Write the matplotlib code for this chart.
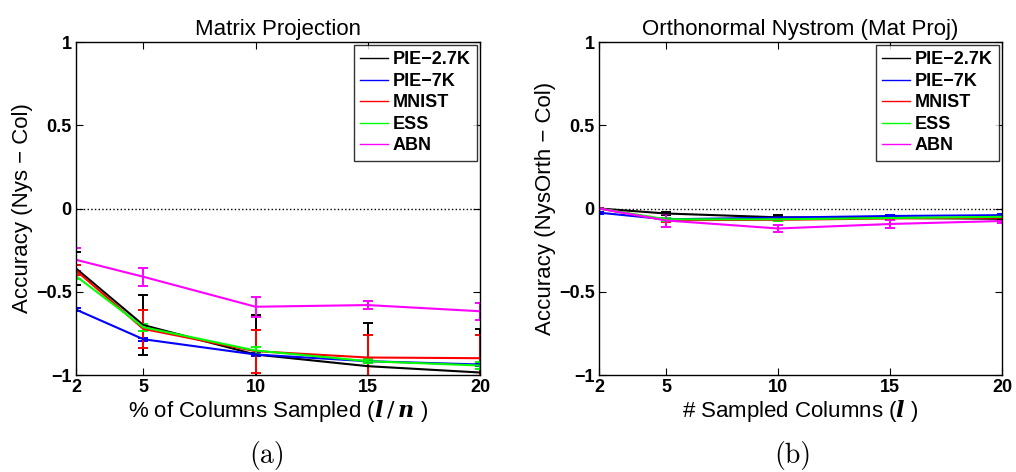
import numpy as np
import matplotlib
matplotlib.use("Agg")
import matplotlib.pyplot as plt
from matplotlib.lines import Line2D

plt.rcParams['font.family'] = ['Liberation Sans', 'DejaVu Sans']
plt.rcParams['mathtext.fontset'] = 'custom'
plt.rcParams['mathtext.it'] = 'DejaVu Serif:italic:bold'
plt.rcParams['mathtext.bf'] = 'DejaVu Serif:bold'

x_vals = [2, 5, 10, 15, 20]
datasets = ['PIE\u22122.7K', 'PIE\u22127K', 'MNIST', 'ESS', 'ABN']
colors = ['#000000', '#0000ff', '#ff0000', '#00ff00', '#ff00ff']

# Panel (a): Matrix Projection
a_pie27 = [-0.36, -0.70, -0.877, -0.947, -0.985]
a_pie7 = [-0.607, -0.785, -0.877, -0.917, -0.937]
a_mnist = [-0.372, -0.723, -0.857, -0.895, -0.899]
a_ess = [-0.406, -0.713, -0.853, -0.917, -0.943]
a_abn = [-0.308, -0.41, -0.59, -0.58, -0.617]
a_pie27_err = [0.1, 0.18, 0.24, 0.26, 0.26]
a_pie7_err = [0.01, 0.01, 0.01, 0.01, 0.01]
a_mnist_err = [0.03, 0.115, 0.128, 0.138, 0.14]
a_ess_err = [0.02, 0.02, 0.02, 0.012, 0.02]
a_abn_err = [0.07, 0.055, 0.06, 0.025, 0.05]

# Panel (b): Orthonormal Nystrom (Mat Proj)
b_pie27 = [0.0, -0.03, -0.053, -0.056, -0.062]
b_pie7 = [-0.025, -0.065, -0.055, -0.045, -0.04]
b_mnist = [0.0, -0.07, -0.068, -0.06, -0.055]
b_ess = [0.0, -0.065, -0.065, -0.057, -0.05]
b_abn = [0.0, -0.072, -0.12, -0.093, -0.075]
b_pie27_err = [0.005, 0.01, 0.015, 0.01, 0.01]
b_pie7_err = [0.005, 0.005, 0.005, 0.005, 0.005]
b_mnist_err = [0.005, 0.01, 0.01, 0.01, 0.01]
b_ess_err = [0.005, 0.01, 0.01, 0.01, 0.01]
b_abn_err = [0.005, 0.04, 0.02, 0.025, 0.01]

yticks = [-1, -0.5, 0, 0.5, 1]
ytick_labels = ['\u22121', '\u22120.5', '0', '0.5', '1']

fig = plt.figure(figsize=(10.16, 4.72), dpi=100)
ax1 = fig.add_axes([0.0748, 0.2055, 0.3976, 0.7055])
ax2 = fig.add_axes([0.5896, 0.2055, 0.3967, 0.7055])

panels = [
    (ax1, [a_pie27, a_pie7, a_mnist, a_ess, a_abn],
     [a_pie27_err, a_pie7_err, a_mnist_err, a_ess_err, a_abn_err],
     'Matrix Projection', 'Accuracy (Nys \u2212 Col)',
     r'% of Columns Sampled ($\mathit{l}\,/\,\mathit{n}$ )', '(a)', 0.263),
    (ax2, [b_pie27, b_pie7, b_mnist, b_ess, b_abn],
     [b_pie27_err, b_pie7_err, b_mnist_err, b_ess_err, b_abn_err],
     'Orthonormal Nystrom (Mat Proj)', 'Accuracy (NysOrth \u2212 Col)',
     r'# Sampled Columns ($\mathit{l}$ )', '(b)', 0.78),
]

for ax, series, errs, title, ylabel, xlabel, cap, capx in panels:
    ax.axhline(0, color='black', linestyle=':', linewidth=1.0, zorder=1)
    handles = []
    for name, vals, err, c in zip(datasets, series, errs, colors):
        ax.errorbar(x_vals, vals, yerr=err, color=c, linewidth=1.5,
                    capsize=3.5, capthick=1.4, elinewidth=1.4)
        handles.append(Line2D([], [], color=c, linewidth=1.0, label=name))
    ax.set_xlim(2, 20)
    ax.set_ylim(-1, 1)
    ax.set_xticks(x_vals)
    ax.set_xticklabels([str(v) for v in x_vals], fontweight='bold', fontsize=13)
    ax.set_yticks(yticks)
    ax.set_yticklabels(ytick_labels, fontweight='bold', fontsize=13)
    ax.tick_params(direction='in', top=True, right=True, length=5, width=0.8, pad=3)
    for sp in ax.spines.values():
        sp.set_linewidth(1.0)
    ax.set_title(title, fontsize=16, pad=5)
    ax.set_ylabel(ylabel, fontsize=16, labelpad=2)
    ax.set_xlabel(xlabel, fontsize=16, labelpad=1)
    leg = ax.legend(handles=handles, loc='upper right',
                    prop={'weight': 'bold', 'size': 13},
                    frameon=True, fancybox=False, edgecolor='black',
                    handlelength=1.55, handletextpad=0.25, borderpad=0.35,
                    labelspacing=0.25, borderaxespad=0.17)
    leg.get_frame().set_linewidth(1.0)
    fig.text(capx, 0.004, cap, ha='center', va='bottom',
             fontsize=20, family='cmr10')

fig.savefig('out.png', dpi=100)
